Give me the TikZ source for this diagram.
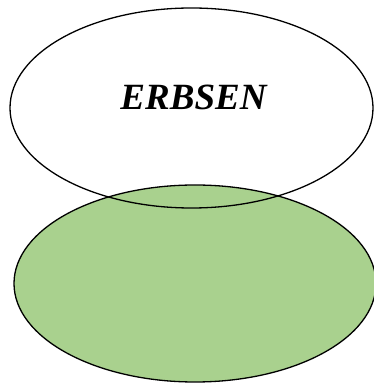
\documentclass[tikz,border=0pt]{standalone}
\usepackage{fontspec}
\setmainfont{Liberation Serif}
\usetikzlibrary{shapes.geometric}
\definecolor{leafgreen}{HTML}{A9D18E}
\tikzset{
  oval/.style={ellipse, draw=black, line width=1.3pt, inner sep=0pt},
  label/.style={font=\fontsize{37}{40}\selectfont\bfseries\itshape, inner sep=0pt}
}
\begin{document}
\begin{tikzpicture}[x=1pt,y=1pt]
\useasboundingbox (0,0) rectangle (374,383);
\node[oval, fill=leafgreen, minimum width=362pt, minimum height=197pt] (bottom) at (195,99.5) {};
\node[oval, minimum width=363pt, minimum height=200pt] (top) at (191.5,275) {};
\node[label] (erbsen) at (193.5,286) {ERBSEN};
\end{tikzpicture}
\end{document}
